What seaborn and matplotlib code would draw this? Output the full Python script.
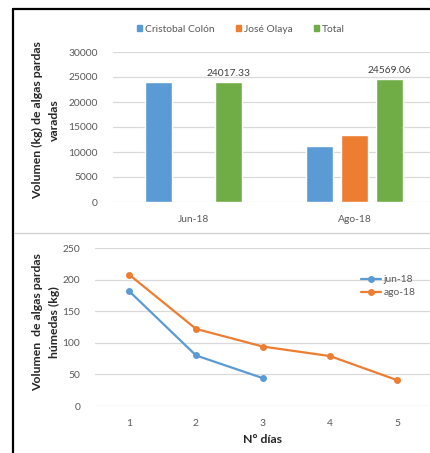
import matplotlib
matplotlib.use("Agg")
import matplotlib.pyplot as plt
import seaborn as sns
import pandas as pd
import numpy as np
from matplotlib.lines import Line2D

# Stranded brown algae per month and beach (kg)
months = ["Jun-18", "Ago-18"]
beaches = ["Cristobal Colón", "José Olaya", "Total"]
colon_kg = [24017.33, 11250.0]
olaya_kg = [np.nan, 13319.06]
total_kg = [24017.33, 24569.06]

# Wet brown algae per day of collection (kg)
days = [1, 2, 3, 4, 5]
jun_wet = [182, 80, 44, np.nan, np.nan]
ago_wet = [208, 122, 94, 79, 41]
line_series = ["jun-18", "ago-18"]

BLUE, ORANGE, GREEN = "#5B9BD5", "#ED7D31", "#70AD47"
GRID = "#D9D9D9"
TICK = "#595959"
FS_TICK = 7.4
FS_LABEL = 8.8

sns.set_style("white")
plt.rcParams["font.family"] = ["Lato", "DejaVu Sans"]

W, H = 431, 453
fig = plt.figure(figsize=(W / 100, H / 100), dpi=100)


def px_axes(left, top, right, bottom):
    return fig.add_axes([left / W, 1 - bottom / H, (right - left) / W, (bottom - top) / H])


# ---- top panel: grouped bars ----
bars = pd.DataFrame({
    "mes": np.repeat(months, 3),
    "playa": beaches * len(months),
    "kg": [v for trio in zip(colon_kg, olaya_kg, total_kg) for v in trio],
})
ax1 = px_axes(113, 52, 435, 202)
sns.barplot(data=bars, x="mes", y="kg", hue="playa", order=months, hue_order=beaches,
            palette=[BLUE, ORANGE, GREEN], saturation=1, width=0.652, gap=0.226,
            dodge=True, errorbar=None, legend=False, ax=ax1, zorder=3)
ax1.set_xlim(-0.5, 1.5)
ax1.set_ylim(0, 30000)
ax1.set_yticks(range(0, 30001, 5000))
ax1.yaxis.grid(True, color=GRID, lw=0.9, zorder=0)
ax1.set_axisbelow(True)
for s in ax1.spines.values():
    s.set_visible(False)
ax1.tick_params(axis="both", length=0, labelsize=FS_TICK, labelcolor=TICK)
ax1.tick_params(axis="y", pad=11)
ax1.tick_params(axis="x", pad=9)
ax1.set_xlabel("")
ax1.set_ylabel("")
ax1.bar_label(ax1.containers[2], fmt="%.2f", padding=3, fontsize=FS_TICK, color="#404040")

handles = [plt.Rectangle((0, 0), 1, 1, color=c) for c in (BLUE, ORANGE, GREEN)]
fig.legend(handles, beaches, loc="center", bbox_to_anchor=(241 / W, 1 - 29 / H), ncol=3,
           frameon=False, fontsize=FS_TICK, handlelength=0.55, handleheight=0.55,
           handletextpad=0.3, columnspacing=2.0, labelcolor=TICK)

fig.text(46 / W, 1 - 120 / H, "Volumen (kg) de algas pardas\nvaradas", rotation=90,
         ha="center", va="center", multialignment="center", fontsize=FS_LABEL,
         fontweight="bold", color="#262626", linespacing=1.75)

# ---- bottom panel: lines ----
lines = pd.DataFrame({
    "dia": days * 2,
    "kg": jun_wet + ago_wet,
    "mes": np.repeat(line_series, len(days)),
})
ax2 = px_axes(95.5, 248, 430.5, 406)
sns.lineplot(data=lines, x="dia", y="kg", hue="mes", hue_order=line_series,
             palette=[BLUE, ORANGE], marker="o", markersize=5, markeredgewidth=0,
             linewidth=1.6, legend=False, ax=ax2, zorder=3)
ax2.set_xlim(0.5, 5.5)
ax2.set_ylim(0, 250)
ax2.set_xticks(days)
ax2.set_yticks(range(0, 251, 50))
ax2.yaxis.grid(True, color=GRID, lw=0.9, zorder=0)
ax2.set_axisbelow(True)
for s in ax2.spines.values():
    s.set_visible(False)
ax2.tick_params(axis="both", length=0, labelsize=FS_TICK, labelcolor=TICK)
ax2.tick_params(axis="y", pad=11)
ax2.tick_params(axis="x", pad=9)
ax2.set_ylabel("")
ax2.set_xlabel("N° días", fontsize=FS_LABEL, fontweight="bold", color="#262626", labelpad=5)

lh = [Line2D([], [], color=c, marker="o", markersize=5, markeredgewidth=0, lw=1.6)
      for c in (BLUE, ORANGE)]
ax2.legend(lh, line_series, loc="upper left", bbox_to_anchor=(356 / W, 1 - 270 / H),
           bbox_transform=fig.transFigure, frameon=False, fontsize=FS_TICK,
           handlelength=1.9, handletextpad=0.25, labelspacing=0.35,
           borderpad=0, labelcolor=TICK)

fig.text(46 / W, 1 - 322 / H, "Volumen  de algas pardas\nhúmedas (kg)", rotation=90,
         ha="center", va="center", multialignment="center", fontsize=FS_LABEL,
         fontweight="bold", color="#262626", linespacing=1.75)

# ---- frame and panel separator ----
fig.add_artist(Line2D([13 / W, 13 / W], [0, 1 - 9 / H], transform=fig.transFigure,
                      color="black", lw=1.6))
fig.add_artist(Line2D([13 / W, 1], [1 - 9 / H, 1 - 9 / H], transform=fig.transFigure,
                      color="black", lw=1.6))
fig.add_artist(Line2D([14 / W, 1], [1 - 233 / H, 1 - 233 / H], transform=fig.transFigure,
                      color="#D0D0D0", lw=0.9))

fig.savefig("out.png", dpi=100)
